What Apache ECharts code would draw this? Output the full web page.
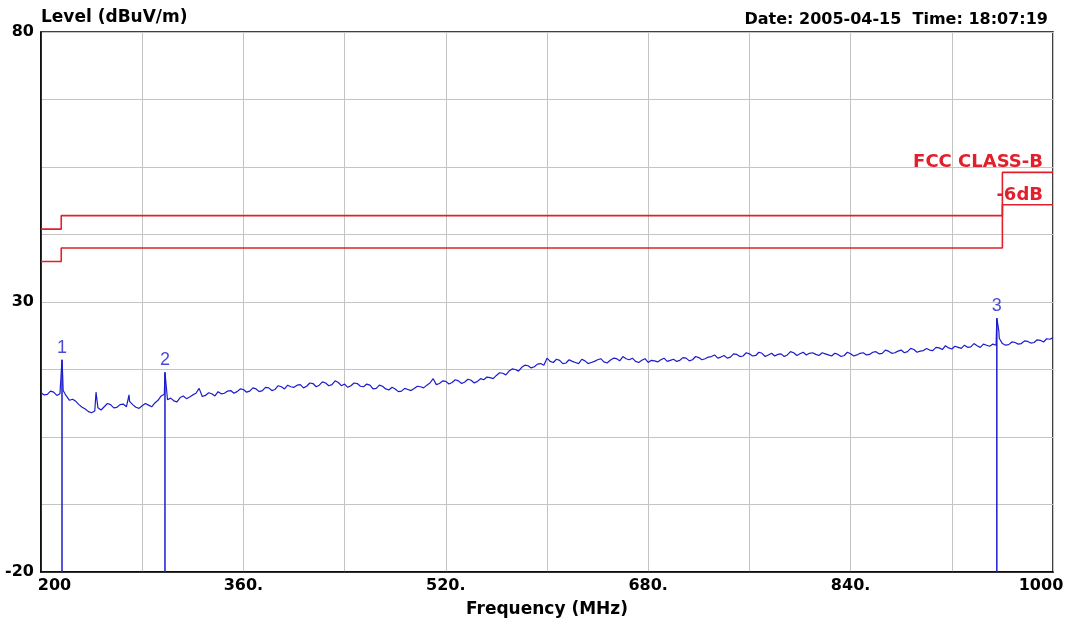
<!DOCTYPE html>
<html>
<head>
<meta charset="utf-8">
<script src="https://cdn.jsdelivr.net/npm/echarts@6/dist/echarts.min.js"></script>
<style>
html,body{margin:0;padding:0;background:#fff;}
#chart{width:1071px;height:625px;}
</style>
</head>
<body>
<div id="chart"></div>
<script>
// ---- data ----
const xTickLabels = ['200', '360.', '520.', '680.', '840.', '1000'];
const yTickLabels = ['-20', '30', '80'];

// sweep samples at 200, 205, 210 ... 1000 MHz
const traceStartMHz = 200;
const traceStepMHz = 5;
const traceLevels = [
  13.2,12.9,13.3,13.0,12.6,12.0,11.0,10.2,9.5,10.4,
  10.6,11.0,10.5,11.1,11.6,10.5,10.8,10.9,11.3,12.6,
  11.9,11.7,12.3,12.1,12.8,14.0,12.7,13.0,13.4,13.1,
  13.6,13.4,13.8,13.5,13.9,13.6,14.1,13.8,14.3,14.6,
  14.2,14.7,14.4,14.9,14.6,15.0,14.7,15.1,14.8,14.5,
  14.9,14.3,14.6,14.0,14.4,13.7,13.9,13.5,13.8,14.0,
  14.3,14.6,15.8,14.9,15.3,15.1,15.4,15.2,15.5,15.3,
  15.6,16.0,16.4,16.8,17.2,17.5,17.9,18.2,18.0,18.6,
  19.6,18.8,19.2,18.7,19.0,18.6,19.1,18.8,19.3,18.9,
  19.2,19.5,19.9,19.3,19.0,19.2,18.8,19.1,19.3,19.0,
  19.4,19.2,19.6,19.3,19.7,19.5,19.9,19.6,20.1,19.8,
  20.3,20.0,20.4,20.1,20.5,20.2,20.0,20.4,20.2,20.6,
  20.4,20.2,20.6,20.1,20.4,20.0,20.3,20.1,20.4,20.2,
  20.6,20.3,20.8,20.5,20.9,20.6,21.1,20.8,21.2,20.9,
  21.4,21.0,21.5,21.9,21.3,21.6,22.0,21.7,21.9,22.2,
  21.8,22.0,22.3,22.1,22.5,22.3,22.7,22.5,22.9,23.2,
  23.4
];
// sweep samples at 202.5, 207.5 ... 997.5 MHz
const traceMidStartMHz = 202.5;
const traceMidLevels = [
  12.8,13.5,12.7,13.6,11.8,11.6,10.5,9.7,9.8,10.0,
  11.2,10.4,11.0,10.6,11.0,10.3,11.2,10.6,11.8,12.9,
  12.2,11.5,12.6,12.4,13.1,12.5,13.2,12.6,13.0,13.5,
  13.1,13.9,13.3,14.1,13.4,14.2,13.6,14.5,13.9,14.3,
  14.6,14.1,15.0,14.3,15.2,14.5,15.4,14.5,14.2,15.0,
  14.4,14.8,13.9,14.6,13.9,14.2,13.4,14.0,13.6,14.4,
  14.1,15.0,14.7,15.4,14.8,15.6,14.9,15.7,15.0,15.8,
  16.1,15.8,16.9,16.5,17.6,17.2,18.3,17.8,18.5,18.3,
  19.0,19.4,18.6,19.3,18.8,19.4,18.6,19.0,19.5,18.7,
  19.6,19.1,19.5,19.6,18.8,19.5,19.2,18.9,19.6,19.2,
  19.0,19.7,19.1,19.9,19.3,19.8,20.2,19.8,19.6,20.4,
  19.9,20.6,20.0,20.7,19.9,20.5,20.3,19.9,20.8,20.1,
  20.7,20.5,20.3,20.6,20.2,20.5,19.9,20.7,20.0,20.5,
  20.2,20.7,20.4,21.1,20.5,20.9,20.6,21.4,20.7,21.0,
  21.1,21.6,21.2,21.5,21.8,21.4,21.6,22.3,21.6,22.0,
  22.2,23.3,22.0,22.6,22.2,22.8,22.4,23.0,22.6,23.1
];
// narrow peaks between sweep samples [MHz, dBuV/m]
const tracePeaks = [
  [216.6,19.3],[217.2,16.0],[243.5,13.3],[269.6,12.8],
  [298.0,17.0],[955.6,27.0],[957.2,24.6]
];

const markerFreq  = [216.6, 298.0, 955.6];
const markerLevel = [19.3, 17.0, 27.0];
const markerName  = ['1', '2', '3'];

const limitFreq   = [200, 216, 960, 1000];
const limitClassB = [43.5, 46, 54, 54];
const limitMargin = [37.5, 40, 48, 48];

// ---- build series data ----
const trace = traceLevels.map((v, i) => [traceStartMHz + i * traceStepMHz, v])
  .concat(traceMidLevels.map((v, i) => [traceMidStartMHz + i * traceStepMHz, v]))
  .concat(tracePeaks)
  .sort((a, b) => a[0] - b[0]);
const limitB = limitFreq.map((f, i) => [f, limitClassB[i]]);
const limitM = limitFreq.map((f, i) => [f, limitMargin[i]]);

const blue = '#1c1ccc';
const red = '#e0202c';
const font = '"DejaVu Sans", Verdana, sans-serif';
const lfont = '"Liberation Sans", Arial, sans-serif';

const series = [
  { type: 'line', data: limitB, step: 'end', symbol: 'none', silent: true,
    lineStyle: { color: red, width: 1.6 }, z: 3 },
  { type: 'line', data: limitM, step: 'end', symbol: 'none', silent: true,
    lineStyle: { color: red, width: 1.6 }, z: 3 },
  { type: 'line', data: trace, symbol: 'none', silent: true,
    lineStyle: { color: blue, width: 1.2 }, z: 4 }
];
markerFreq.forEach((f, i) => {
  series.push({
    type: 'line', symbol: 'none', silent: true, z: 5,
    data: [[f, markerLevel[i]], [f, -20]],
    lineStyle: { color: blue, width: 1.5 }
  });
});
series.push({
  type: 'scatter', symbolSize: 0, silent: true, z: 6,
  data: markerFreq.map((f, i) => [f, markerLevel[i]]),
  label: {
    show: true, position: 'top', distance: 3,
    formatter: p => markerName[p.dataIndex],
    color: blue, fontFamily: lfont, fontSize: 18
  }
});

const labelStyle = { fontFamily: font, fontSize: 16, fontWeight: 'bold', color: '#000' };
const nameStyle = Object.assign({}, labelStyle, { fontSize: 17 });

const chart = echarts.init(document.getElementById('chart'));
chart.setOption({
  animation: false,
  backgroundColor: '#fff',
  title: {
    text: 'Date: 2005-04-15  Time: 18:07:19',
    right: 18, top: 7,
    textStyle: labelStyle
  },
  grid: {
    left: 41, right: 18, top: 32, bottom: 53,
    show: true, borderColor: '#000', borderWidth: 1.5, backgroundColor: 'transparent'
  },
  xAxis: {
    type: 'value', min: 200, max: 1000, interval: 80,
    name: 'Frequency (MHz)', nameLocation: 'middle', nameGap: 29,
    nameTextStyle: nameStyle,
    axisLine: { show: true, onZero: false, lineStyle: { color: '#000', width: 1.5 } },
    axisTick: { show: false },
    splitLine: { show: true, lineStyle: { color: '#c4c4c4', width: 1 } },
    axisLabel: Object.assign({}, labelStyle, {
      margin: 6,
      formatter: v => {
        const idx = Math.round((v - 200) / 160);
        if (Math.abs(v - 200 - idx * 160) > 1e-6) return '';
        if (idx === 0) return '{first|' + xTickLabels[idx] + '}';
        if (idx === xTickLabels.length - 1) return '{last|' + xTickLabels[idx] + '}';
        return xTickLabels[idx];
      },
      rich: {
        first: Object.assign({}, labelStyle, { padding: [0, 0, 0, 27] }),
        last: Object.assign({}, labelStyle, { padding: [0, 24, 0, 0] })
      }
    })
  },
  yAxis: {
    type: 'value', min: -20, max: 80, interval: 12.5,
    name: 'Level (dBuV/m)', nameLocation: 'end', nameGap: 6,
    nameTextStyle: Object.assign({}, nameStyle, { align: 'left', verticalAlign: 'bottom' }),
    axisLine: { show: true, lineStyle: { color: '#000', width: 1.5 } },
    axisTick: { show: false },
    splitLine: { show: true, lineStyle: { color: '#c4c4c4', width: 1 } },
    axisLabel: Object.assign({}, labelStyle, {
      margin: 7,
      formatter: v => {
        const s = String(Math.round(v));
        return (Math.abs(v - Math.round(v)) < 1e-6 && yTickLabels.includes(s)) ? s : '';
      }
    })
  },
  graphic: [
    { type: 'text', right: 28, top: 153, z: 10,
      style: { text: 'FCC CLASS-B', fill: red, font: 'bold 18px ' + font } },
    { type: 'text', right: 28, top: 186, z: 10,
      style: { text: '-6dB', fill: red, font: 'bold 18px ' + font } }
  ],
  series: series
});
</script>
</body>
</html>
